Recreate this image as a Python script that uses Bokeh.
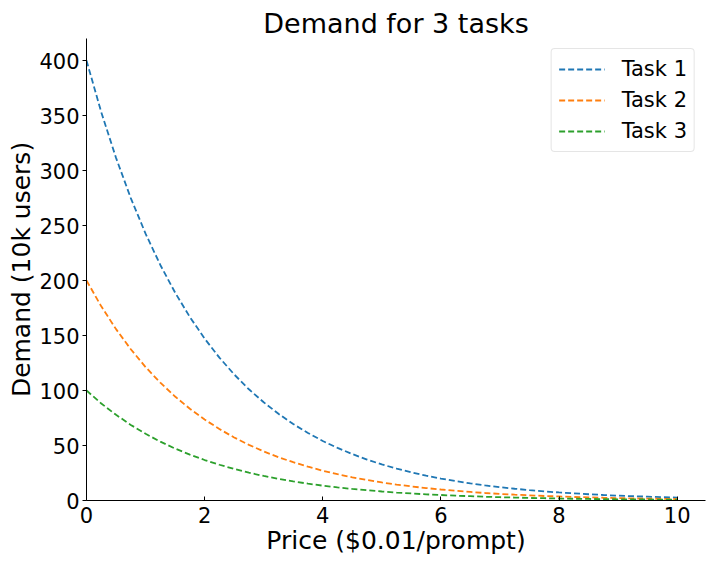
from bokeh.plotting import figure
from bokeh.models import Range1d, Legend, LegendItem, FixedTicker
from bokeh.embed import file_html
from bokeh.resources import INLINE

prices = [0, 0.25, 0.5, 0.75, 1, 1.25, 1.5, 1.75, 2, 2.25, 2.5, 2.75, 3, 3.25, 3.5, 3.75,
          4, 4.25, 4.5, 4.75, 5, 5.25, 5.5, 5.75, 6, 6.25, 6.5, 6.75, 7, 7.25, 7.5, 7.75,
          8, 8.25, 8.5, 8.75, 9, 9.25, 9.5, 9.75, 10]
task1 = [400, 353.0, 311.5, 274.9, 242.6, 214.1, 189.0, 166.8, 147.2, 129.9, 114.6, 101.1,
         89.3, 78.8, 69.5, 61.4, 54.1, 47.8, 42.2, 37.2, 32.8, 29.0, 25.6, 22.6, 19.9, 17.6,
         15.5, 13.7, 12.1, 10.7, 9.4, 8.3, 7.3, 6.5, 5.7, 5.0, 4.4, 3.9, 3.5, 3.0, 2.7]
task2 = [200, 176.5, 155.8, 137.5, 121.3, 107.1, 94.5, 83.4, 73.6, 65.0, 57.3, 50.6, 44.6,
         39.4, 34.8, 30.7, 27.1, 23.9, 21.1, 18.6, 16.4, 14.5, 12.8, 11.3, 10.0, 8.8, 7.8,
         6.8, 6.0, 5.3, 4.7, 4.1, 3.7, 3.2, 2.9, 2.5, 2.2, 1.9, 1.7, 1.5, 1.3]
task3 = [100, 88.2, 77.9, 68.7, 60.7, 53.5, 47.2, 41.7, 36.8, 32.5, 28.7, 25.3, 22.3, 19.7,
         17.4, 15.3, 13.5, 11.9, 10.5, 9.3, 8.2, 7.2, 6.4, 5.6, 5.0, 4.4, 3.9, 3.4, 3.0, 2.7,
         2.3, 2.1, 1.8, 1.6, 1.4, 1.3, 1.1, 1.0, 0.9, 0.8, 0.7]
series_names = ["Task 1", "Task 2", "Task 3"]
colors = ["#1f77b4", "#ff7f0e", "#2ca02c"]
x_ticks = [0, 2, 4, 6, 8, 10]
y_ticks = [0, 50, 100, 150, 200, 250, 300, 350, 400]

FONT = "DejaVu Sans"

p = figure(output_backend="svg", toolbar_location=None,
           x_range=Range1d(0, 10.48), y_range=Range1d(0, 420),
           title="Demand for 3 tasks",
           frame_width=619, frame_height=462,
           min_border_left=86, min_border_right=3, min_border_top=38, min_border_bottom=48)

p.title.text_font = FONT
p.title.text_font_size = "27px"
p.title.text_font_style = "normal"
p.title.text_color = "black"
p.title.align = "center"
p.title.standoff = 0
p.title.offset = 0

p.grid.visible = False
p.outline_line_color = None

for ax in (p.xaxis[0], p.yaxis[0]):
    ax.major_label_text_font = FONT
    ax.major_label_text_font_size = "21px"
    ax.major_label_text_color = "black"
    ax.axis_label_text_font = FONT
    ax.axis_label_text_font_size = "25px"
    ax.axis_label_text_font_style = "normal"
    ax.axis_label_text_color = "black"
    ax.axis_line_color = "black"
    ax.axis_line_width = 1
    ax.major_tick_line_color = "black"
    ax.minor_tick_line_color = None

p.xaxis.ticker = FixedTicker(ticks=x_ticks)
p.yaxis.ticker = FixedTicker(ticks=y_ticks)
p.xaxis.major_tick_in = 4
p.xaxis.major_tick_out = 0
p.yaxis.major_tick_in = 0
p.yaxis.major_tick_out = 4
p.xaxis.axis_label = "Price ($0.01/prompt)"
p.yaxis.axis_label = "Demand (10k users)"
p.xaxis.major_label_standoff = 6
p.yaxis.major_label_standoff = 3
p.xaxis.axis_label_standoff = 0
p.yaxis.axis_label_standoff = 0

items = []
for name, ys, c in zip(series_names, [task1, task2, task3], colors):
    r = p.line(prices, ys, line_color=c, line_width=1.8, line_dash="6 3")
    items.append(LegendItem(label=name, renderers=[r]))

legend = Legend(items=items, location="top_right")
legend.label_text_font = FONT
legend.label_text_font_size = "21px"
legend.label_text_color = "black"
legend.glyph_width = 46
legend.glyph_height = 26
legend.label_standoff = 17
legend.label_height = 26
legend.spacing = 5
legend.padding = 7
legend.margin = 10
legend.border_line_color = "#cccccc"
legend.border_line_width = 1
legend.border_radius = 4
legend.background_fill_alpha = 0.8
p.add_layout(legend)

open("out.html", "w").write(file_html(p, INLINE))
